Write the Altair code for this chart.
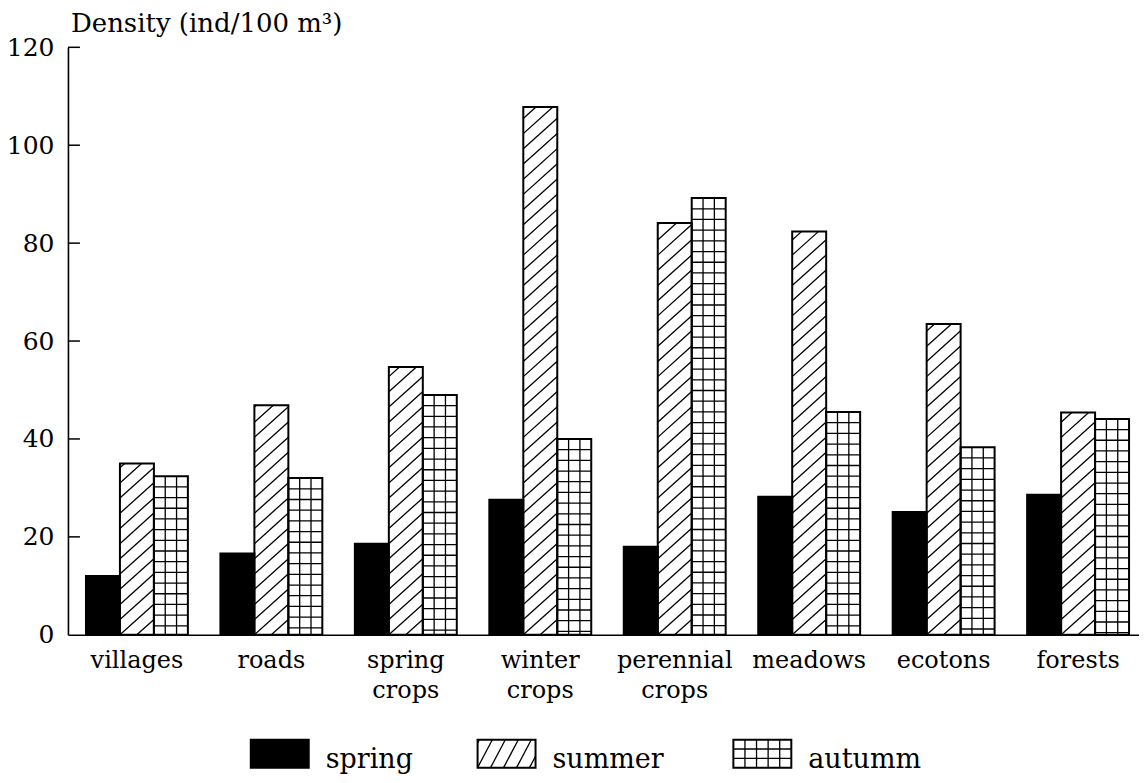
import math
import altair as alt
import pandas as pd

# ---------------- data ----------------
categories = ["villages", "roads", "spring\ncrops", "winter\ncrops",
              "perennial\ncrops", "meadows", "ecotons", "forests"]
spring = [12.0, 16.6, 18.6, 27.6, 18.0, 28.2, 25.1, 28.6]
summer = [35.0, 46.9, 54.7, 107.8, 84.1, 82.4, 63.5, 45.4]
autumn = [32.4, 32.0, 49.0, 40.0, 89.2, 45.5, 38.3, 44.1]
season_names = ["spring", "summer", "autumn"]
legend_labels = ["spring", "summer", "autumm"]
y_tick_values = [0, 20, 40, 60, 80, 100, 120]
title_text = "Density (ind/100 m\u00b3)"

# ---------------- layout / style ----------------
W, H = 1072, 588
X_DOMAIN = [-0.013, 7.953]
Y_DOMAIN = [0, 120]
PX_X = W / (X_DOMAIN[1] - X_DOMAIN[0])
PX_Y = H / (Y_DOMAIN[1] - Y_DOMAIN[0])
BAR_PX = 34
FONT = "DejaVu Serif"

HATCH_SLOPE, HATCH_SPACING = 0.9, 15.2       # summer bars
GRID_COLS, GRID_ROW_PX = 3, 10.7              # autumn bars
LEG_SWATCH_X = [183, 410, 666]                # plot-relative px
LEG_SWATCH_W, LEG_TOP, LEG_BOTTOM = 58, 693, 721
LEG_TEXT_GAP = 17


def px_x(px):
    return X_DOMAIN[0] + px / PX_X


def px_y(py):
    return (H - py) / PX_Y


def hatch_segments(x0, x1, y0, y1, slope, spacing):
    w = (x1 - x0) * PX_X
    h = (y1 - y0) * PX_Y
    segs = []
    n = math.floor(-slope * w / spacing)
    while True:
        b = n * spacing
        if b >= h:
            break
        t0 = max(0.0, -b / slope)
        t1 = min(w, (h - b) / slope)
        if t1 - t0 > 0.3:
            segs.append(dict(x=x0 + t0 / PX_X, y=y0 + (b + slope * t0) / PX_Y,
                             x2=x0 + t1 / PX_X, y2=y0 + (b + slope * t1) / PX_Y))
        n += 1
    return segs


def grid_segments(x0, x1, y0, y1, ncols, row_px):
    segs = []
    for k in range(1, ncols):
        xx = x0 + (x1 - x0) * k / ncols
        segs.append(dict(x=xx, x2=xx, y=y0, y2=y1))
    step = row_px / PX_Y
    yy = y1 - step
    while yy > y0 + 0.15:
        segs.append(dict(x=x0, x2=x1, y=yy, y2=yy))
        yy -= step
    return segs


bw = BAR_PX / PX_X
rows, lines = [], []
for i, cat in enumerate(categories):
    for j, (s, vals) in enumerate(zip(season_names, [spring, summer, autumn])):
        x0 = i + 0.5 + (j - 1.5) * bw
        x1 = x0 + bw
        rows.append(dict(season=s, x=x0, x2=x1, y=vals[i], y0=0.0))
        if s == "summer":
            lines += hatch_segments(x0, x1, 0.0, vals[i], HATCH_SLOPE, HATCH_SPACING)
        elif s == "autumn":
            lines += grid_segments(x0, x1, 0.0, vals[i], GRID_COLS, GRID_ROW_PX)

# legend swatches (drawn with the same scales, below the plot)
leg_text = []
for k, (s, lab) in enumerate(zip(season_names, legend_labels)):
    lx0 = px_x(LEG_SWATCH_X[k])
    lx1 = px_x(LEG_SWATCH_X[k] + LEG_SWATCH_W)
    ly0 = px_y(LEG_BOTTOM)
    ly1 = px_y(LEG_TOP)
    rows.append(dict(season=s, x=lx0, x2=lx1, y=ly1, y0=ly0))
    if s == "summer":
        lines += hatch_segments(lx0, lx1, ly0, ly1, 1.9, 24.7)
    elif s == "autumn":
        lines += grid_segments(lx0, lx1, ly0, ly1, 5, (LEG_BOTTOM - LEG_TOP) / 3)
    leg_text.append(dict(x=px_x(LEG_SWATCH_X[k] + LEG_SWATCH_W + LEG_TEXT_GAP), label=lab))

bars_df = pd.DataFrame(rows)
lines_df = pd.DataFrame(lines)
leg_df = pd.DataFrame(leg_text)
cat_df = pd.DataFrame(dict(x=[i + 0.5 for i in range(len(categories))], label=categories))
tick_df = pd.DataFrame(dict(y=y_tick_values[1:]))
title_df = pd.DataFrame(dict(label=[title_text]))

xs = alt.Scale(domain=X_DOMAIN, nice=False, zero=False)
ys = alt.Scale(domain=Y_DOMAIN, nice=False, zero=False)
AX_X = alt.Axis(labels=False, ticks=False, grid=False, domainColor="black",
                domainWidth=1.6, title=None)
AX_Y = alt.Axis(values=y_tick_values, ticks=False, grid=False, labelPadding=14,
                labelFont=FONT, labelFontSize=25, labelColor="black",
                domainColor="black", domainWidth=1.6, title=None)

X = alt.X("x:Q", scale=xs, axis=AX_X)
Y = alt.Y("y:Q", scale=ys, axis=AX_Y)

fills = alt.Chart(bars_df).mark_rect(strokeWidth=0).encode(
    x=X, x2="x2:Q", y=Y, y2="y0:Q",
    fill=alt.Fill("season:N", scale=alt.Scale(domain=season_names,
                                              range=["#000000", "#ffffff", "#ffffff"]),
                  legend=None),
)

pattern = alt.Chart(lines_df).mark_rule(color="black", strokeWidth=1.3).encode(
    x=X, x2="x2:Q", y=Y, y2="y2:Q",
)

outlines = alt.Chart(bars_df).mark_rect(fillOpacity=0, stroke="black", strokeWidth=2).encode(
    x=X, x2="x2:Q", y=Y, y2="y0:Q",
)

ticks = alt.Chart(tick_df).mark_rule(color="black", strokeWidth=1.5).encode(
    y=Y, x=alt.value(0), x2=alt.value(12),
)

cat_labels = alt.Chart(cat_df).mark_text(
    font=FONT, fontSize=24, align="center", baseline="alphabetic",
    lineBreak="\n", lineHeight=30, color="black",
).encode(x=X, y=alt.value(621), text="label:N")

leg_labels = alt.Chart(leg_df).mark_text(
    font=FONT, fontSize=27, align="left", baseline="alphabetic", color="black",
).encode(x=X, y=alt.value(LEG_BOTTOM), text="label:N")

title = alt.Chart(title_df).mark_text(
    font=FONT, fontSize=26, align="left", baseline="alphabetic", color="black",
).encode(x=alt.value(3), y=alt.value(-15), text="label:N")

chart = alt.layer(fills, pattern, outlines, ticks, cat_labels, leg_labels, title).properties(
    width=W, height=H,
    autosize=alt.AutoSizeParams(type="none"),
    padding={"left": 60, "top": 39, "right": 0, "bottom": 140},
    background="white",
).configure_view(stroke=None)

chart.save("out.html", embed_options={"renderer": "svg", "actions": False})
